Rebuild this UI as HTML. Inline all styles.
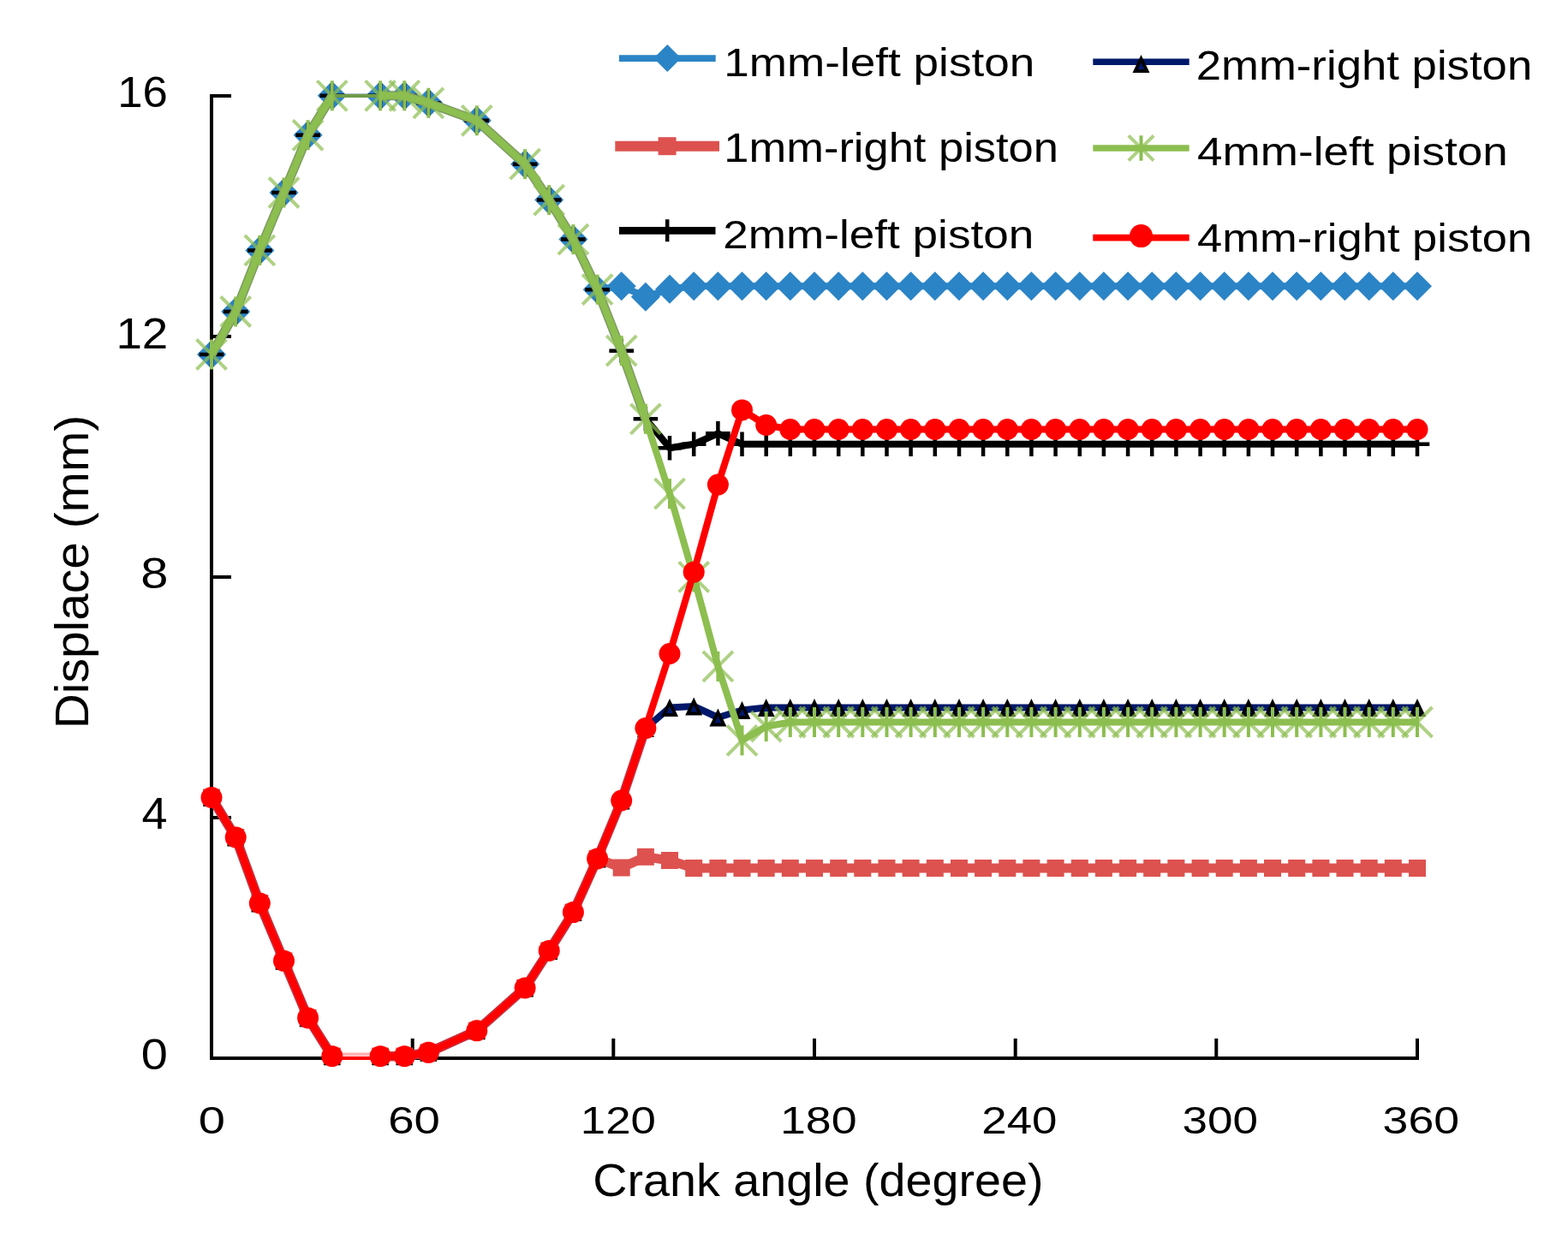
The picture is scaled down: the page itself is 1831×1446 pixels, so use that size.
<!DOCTYPE html>
<html><head><meta charset="utf-8"><title>Displace vs Crank angle</title>
<style>html,body{margin:0;padding:0;background:#fff;}svg{display:block;}</style></head>
<body>
<svg width="1831" height="1446" viewBox="0 0 1831 1446">
<rect width="1831" height="1446" fill="#fff"/>
<g id="axes"><path d="M247,110 V1238 M245,1236 H1657" stroke="#000" stroke-width="4" fill="none"/><path d="M247,1236.0 H270" stroke="#000" stroke-width="4"/><path d="M247,955.0 H270" stroke="#000" stroke-width="4"/><path d="M247,674.0 H270" stroke="#000" stroke-width="4"/><path d="M247,393.0 H270" stroke="#000" stroke-width="4"/><path d="M247,112.0 H270" stroke="#000" stroke-width="4"/><path d="M247.0,1236 V1213" stroke="#000" stroke-width="4"/><path d="M481.7,1236 V1213" stroke="#000" stroke-width="4"/><path d="M716.3,1236 V1213" stroke="#000" stroke-width="4"/><path d="M951.0,1236 V1213" stroke="#000" stroke-width="4"/><path d="M1185.7,1236 V1213" stroke="#000" stroke-width="4"/><path d="M1420.3,1236 V1213" stroke="#000" stroke-width="4"/><path d="M1655.0,1236 V1213" stroke="#000" stroke-width="4"/></g>
<g id="plot"><path d="M247.0,414.0 L275.2,364.0 L303.3,292.4 L331.5,225.0 L359.6,157.8 L387.8,111.8 M444.1,111.8 L472.3,111.8 L500.4,120.3 L556.8,140.8 L613.1,191.7 L641.2,233.6 L669.4,279.6 L697.6,338.2 L725.7,334.2 L753.9,346.8 L782.0,337.8 L810.2,334.2 L838.4,334.2 L866.5,334.2 L894.7,334.2 L922.8,334.2 L951.0,334.2 L979.2,334.2 L1007.3,334.2 L1035.5,334.2 L1063.6,334.2 L1091.8,334.2 L1120.0,334.2 L1148.1,334.2 L1176.3,334.2 L1204.4,334.2 L1232.6,334.2 L1260.8,334.2 L1288.9,334.2 L1317.1,334.2 L1345.2,334.2 L1373.4,334.2 L1401.6,334.2 L1429.7,334.2 L1457.9,334.2 L1486.0,334.2 L1514.2,334.2 L1542.4,334.2 L1570.5,334.2 L1598.7,334.2 L1626.8,334.2 L1655.0,334.2" stroke="#2B84C6" stroke-width="8" fill="none" stroke-linejoin="round"/><path d="M387.8,111.8 L444.1,111.8" stroke="#2B84C6" stroke-width="4" fill="none" opacity="0.7"/><path d="M247.0,397.0 L264.0,414.0 L247.0,431.0 L230.0,414.0Z" fill="#2B84C6"/><path d="M275.2,347.0 L292.2,364.0 L275.2,381.0 L258.2,364.0Z" fill="#2B84C6"/><path d="M303.3,275.4 L320.3,292.4 L303.3,309.4 L286.3,292.4Z" fill="#2B84C6"/><path d="M331.5,208.0 L348.5,225.0 L331.5,242.0 L314.5,225.0Z" fill="#2B84C6"/><path d="M359.6,140.8 L376.6,157.8 L359.6,174.8 L342.6,157.8Z" fill="#2B84C6"/><path d="M387.8,94.8 L404.8,111.8 L387.8,128.8 L370.8,111.8Z" fill="#2B84C6"/><path d="M444.1,94.8 L461.1,111.8 L444.1,128.8 L427.1,111.8Z" fill="#2B84C6"/><path d="M472.3,94.8 L489.3,111.8 L472.3,128.8 L455.3,111.8Z" fill="#2B84C6"/><path d="M500.4,103.3 L517.4,120.3 L500.4,137.3 L483.4,120.3Z" fill="#2B84C6"/><path d="M556.8,123.8 L573.8,140.8 L556.8,157.8 L539.8,140.8Z" fill="#2B84C6"/><path d="M613.1,174.7 L630.1,191.7 L613.1,208.7 L596.1,191.7Z" fill="#2B84C6"/><path d="M641.2,216.6 L658.2,233.6 L641.2,250.6 L624.2,233.6Z" fill="#2B84C6"/><path d="M669.4,262.6 L686.4,279.6 L669.4,296.6 L652.4,279.6Z" fill="#2B84C6"/><path d="M697.6,321.2 L714.6,338.2 L697.6,355.2 L680.6,338.2Z" fill="#2B84C6"/><path d="M725.7,317.2 L742.7,334.2 L725.7,351.2 L708.7,334.2Z" fill="#2B84C6"/><path d="M753.9,329.8 L770.9,346.8 L753.9,363.8 L736.9,346.8Z" fill="#2B84C6"/><path d="M782.0,320.8 L799.0,337.8 L782.0,354.8 L765.0,337.8Z" fill="#2B84C6"/><path d="M810.2,317.2 L827.2,334.2 L810.2,351.2 L793.2,334.2Z" fill="#2B84C6"/><path d="M838.4,317.2 L855.4,334.2 L838.4,351.2 L821.4,334.2Z" fill="#2B84C6"/><path d="M866.5,317.2 L883.5,334.2 L866.5,351.2 L849.5,334.2Z" fill="#2B84C6"/><path d="M894.7,317.2 L911.7,334.2 L894.7,351.2 L877.7,334.2Z" fill="#2B84C6"/><path d="M922.8,317.2 L939.8,334.2 L922.8,351.2 L905.8,334.2Z" fill="#2B84C6"/><path d="M951.0,317.2 L968.0,334.2 L951.0,351.2 L934.0,334.2Z" fill="#2B84C6"/><path d="M979.2,317.2 L996.2,334.2 L979.2,351.2 L962.2,334.2Z" fill="#2B84C6"/><path d="M1007.3,317.2 L1024.3,334.2 L1007.3,351.2 L990.3,334.2Z" fill="#2B84C6"/><path d="M1035.5,317.2 L1052.5,334.2 L1035.5,351.2 L1018.5,334.2Z" fill="#2B84C6"/><path d="M1063.6,317.2 L1080.6,334.2 L1063.6,351.2 L1046.6,334.2Z" fill="#2B84C6"/><path d="M1091.8,317.2 L1108.8,334.2 L1091.8,351.2 L1074.8,334.2Z" fill="#2B84C6"/><path d="M1120.0,317.2 L1137.0,334.2 L1120.0,351.2 L1103.0,334.2Z" fill="#2B84C6"/><path d="M1148.1,317.2 L1165.1,334.2 L1148.1,351.2 L1131.1,334.2Z" fill="#2B84C6"/><path d="M1176.3,317.2 L1193.3,334.2 L1176.3,351.2 L1159.3,334.2Z" fill="#2B84C6"/><path d="M1204.4,317.2 L1221.4,334.2 L1204.4,351.2 L1187.4,334.2Z" fill="#2B84C6"/><path d="M1232.6,317.2 L1249.6,334.2 L1232.6,351.2 L1215.6,334.2Z" fill="#2B84C6"/><path d="M1260.8,317.2 L1277.8,334.2 L1260.8,351.2 L1243.8,334.2Z" fill="#2B84C6"/><path d="M1288.9,317.2 L1305.9,334.2 L1288.9,351.2 L1271.9,334.2Z" fill="#2B84C6"/><path d="M1317.1,317.2 L1334.1,334.2 L1317.1,351.2 L1300.1,334.2Z" fill="#2B84C6"/><path d="M1345.2,317.2 L1362.2,334.2 L1345.2,351.2 L1328.2,334.2Z" fill="#2B84C6"/><path d="M1373.4,317.2 L1390.4,334.2 L1373.4,351.2 L1356.4,334.2Z" fill="#2B84C6"/><path d="M1401.6,317.2 L1418.6,334.2 L1401.6,351.2 L1384.6,334.2Z" fill="#2B84C6"/><path d="M1429.7,317.2 L1446.7,334.2 L1429.7,351.2 L1412.7,334.2Z" fill="#2B84C6"/><path d="M1457.9,317.2 L1474.9,334.2 L1457.9,351.2 L1440.9,334.2Z" fill="#2B84C6"/><path d="M1486.0,317.2 L1503.0,334.2 L1486.0,351.2 L1469.0,334.2Z" fill="#2B84C6"/><path d="M1514.2,317.2 L1531.2,334.2 L1514.2,351.2 L1497.2,334.2Z" fill="#2B84C6"/><path d="M1542.4,317.2 L1559.4,334.2 L1542.4,351.2 L1525.4,334.2Z" fill="#2B84C6"/><path d="M1570.5,317.2 L1587.5,334.2 L1570.5,351.2 L1553.5,334.2Z" fill="#2B84C6"/><path d="M1598.7,317.2 L1615.7,334.2 L1598.7,351.2 L1581.7,334.2Z" fill="#2B84C6"/><path d="M1626.8,317.2 L1643.8,334.2 L1626.8,351.2 L1609.8,334.2Z" fill="#2B84C6"/><path d="M1655.0,317.2 L1672.0,334.2 L1655.0,351.2 L1638.0,334.2Z" fill="#2B84C6"/><path d="M247.0,931.5 L275.2,978.0 L303.3,1055.0 L331.5,1122.3 L359.6,1188.9 L387.8,1233.7 M444.1,1233.7 L472.3,1233.7 L500.4,1229.3 L556.8,1203.8 L613.1,1153.9 L641.2,1110.4 L669.4,1065.6 L697.6,1002.9 L725.7,1013.5 L753.9,1000.8 L782.0,1005.0 L810.2,1014.0 L838.4,1014.0 L866.5,1014.0 L894.7,1014.0 L922.8,1014.0 L951.0,1014.0 L979.2,1014.0 L1007.3,1014.0 L1035.5,1014.0 L1063.6,1014.0 L1091.8,1014.0 L1120.0,1014.0 L1148.1,1014.0 L1176.3,1014.0 L1204.4,1014.0 L1232.6,1014.0 L1260.8,1014.0 L1288.9,1014.0 L1317.1,1014.0 L1345.2,1014.0 L1373.4,1014.0 L1401.6,1014.0 L1429.7,1014.0 L1457.9,1014.0 L1486.0,1014.0 L1514.2,1014.0 L1542.4,1014.0 L1570.5,1014.0 L1598.7,1014.0 L1626.8,1014.0 L1655.0,1014.0" stroke="#DD524F" stroke-width="11" fill="none" stroke-linejoin="round"/><rect x="237.0" y="921.5" width="20" height="20" fill="#DD524F"/><rect x="265.2" y="968.0" width="20" height="20" fill="#DD524F"/><rect x="293.3" y="1045.0" width="20" height="20" fill="#DD524F"/><rect x="321.5" y="1112.3" width="20" height="20" fill="#DD524F"/><rect x="349.6" y="1178.9" width="20" height="20" fill="#DD524F"/><rect x="377.8" y="1223.7" width="20" height="20" fill="#DD524F"/><rect x="434.1" y="1223.7" width="20" height="20" fill="#DD524F"/><rect x="462.3" y="1223.7" width="20" height="20" fill="#DD524F"/><rect x="490.4" y="1219.3" width="20" height="20" fill="#DD524F"/><rect x="546.8" y="1193.8" width="20" height="20" fill="#DD524F"/><rect x="603.1" y="1143.9" width="20" height="20" fill="#DD524F"/><rect x="631.2" y="1100.4" width="20" height="20" fill="#DD524F"/><rect x="659.4" y="1055.6" width="20" height="20" fill="#DD524F"/><rect x="687.6" y="992.9" width="20" height="20" fill="#DD524F"/><rect x="715.7" y="1003.5" width="20" height="20" fill="#DD524F"/><rect x="743.9" y="990.8" width="20" height="20" fill="#DD524F"/><rect x="772.0" y="995.0" width="20" height="20" fill="#DD524F"/><rect x="800.2" y="1004.0" width="20" height="20" fill="#DD524F"/><rect x="828.4" y="1004.0" width="20" height="20" fill="#DD524F"/><rect x="856.5" y="1004.0" width="20" height="20" fill="#DD524F"/><rect x="884.7" y="1004.0" width="20" height="20" fill="#DD524F"/><rect x="912.8" y="1004.0" width="20" height="20" fill="#DD524F"/><rect x="941.0" y="1004.0" width="20" height="20" fill="#DD524F"/><rect x="969.2" y="1004.0" width="20" height="20" fill="#DD524F"/><rect x="997.3" y="1004.0" width="20" height="20" fill="#DD524F"/><rect x="1025.5" y="1004.0" width="20" height="20" fill="#DD524F"/><rect x="1053.6" y="1004.0" width="20" height="20" fill="#DD524F"/><rect x="1081.8" y="1004.0" width="20" height="20" fill="#DD524F"/><rect x="1110.0" y="1004.0" width="20" height="20" fill="#DD524F"/><rect x="1138.1" y="1004.0" width="20" height="20" fill="#DD524F"/><rect x="1166.3" y="1004.0" width="20" height="20" fill="#DD524F"/><rect x="1194.4" y="1004.0" width="20" height="20" fill="#DD524F"/><rect x="1222.6" y="1004.0" width="20" height="20" fill="#DD524F"/><rect x="1250.8" y="1004.0" width="20" height="20" fill="#DD524F"/><rect x="1278.9" y="1004.0" width="20" height="20" fill="#DD524F"/><rect x="1307.1" y="1004.0" width="20" height="20" fill="#DD524F"/><rect x="1335.2" y="1004.0" width="20" height="20" fill="#DD524F"/><rect x="1363.4" y="1004.0" width="20" height="20" fill="#DD524F"/><rect x="1391.6" y="1004.0" width="20" height="20" fill="#DD524F"/><rect x="1419.7" y="1004.0" width="20" height="20" fill="#DD524F"/><rect x="1447.9" y="1004.0" width="20" height="20" fill="#DD524F"/><rect x="1476.0" y="1004.0" width="20" height="20" fill="#DD524F"/><rect x="1504.2" y="1004.0" width="20" height="20" fill="#DD524F"/><rect x="1532.4" y="1004.0" width="20" height="20" fill="#DD524F"/><rect x="1560.5" y="1004.0" width="20" height="20" fill="#DD524F"/><rect x="1588.7" y="1004.0" width="20" height="20" fill="#DD524F"/><rect x="1616.8" y="1004.0" width="20" height="20" fill="#DD524F"/><rect x="1645.0" y="1004.0" width="20" height="20" fill="#DD524F"/><path d="M247.0,414.0 L275.2,364.0 L303.3,292.4 L331.5,225.0 L359.6,157.8 L387.8,111.8 M444.1,111.8 L472.3,111.8 L500.4,120.3 L556.8,140.8 L613.1,191.7 L641.2,233.6 L669.4,279.6 L697.6,338.2 L725.7,409.7 L753.9,489.3 L782.0,523.2 L810.2,518.8 L838.4,506.3 L866.5,518.8 L894.7,518.8 L922.8,518.8 L951.0,518.8 L979.2,518.8 L1007.3,518.8 L1035.5,518.8 L1063.6,518.8 L1091.8,518.8 L1120.0,518.8 L1148.1,518.8 L1176.3,518.8 L1204.4,518.8 L1232.6,518.8 L1260.8,518.8 L1288.9,518.8 L1317.1,518.8 L1345.2,518.8 L1373.4,518.8 L1401.6,518.8 L1429.7,518.8 L1457.9,518.8 L1486.0,518.8 L1514.2,518.8 L1542.4,518.8 L1570.5,518.8 L1598.7,518.8 L1626.8,518.8 L1655.0,518.8" stroke="#000000" stroke-width="8" fill="none" stroke-linejoin="round"/><path d="M387.8,111.8 L444.1,111.8" stroke="#000000" stroke-width="4" fill="none" opacity="0.7"/><path d="M232.7,414.0 H261.3 M247.0,399.7 V428.3" stroke="#000" stroke-width="4.5" fill="none"/><path d="M260.9,364.0 H289.5 M275.2,349.7 V378.3" stroke="#000" stroke-width="4.5" fill="none"/><path d="M289.0,292.4 H317.6 M303.3,278.1 V306.7" stroke="#000" stroke-width="4.5" fill="none"/><path d="M317.2,225.0 H345.8 M331.5,210.7 V239.3" stroke="#000" stroke-width="4.5" fill="none"/><path d="M345.3,157.8 H373.9 M359.6,143.5 V172.1" stroke="#000" stroke-width="4.5" fill="none"/><path d="M373.5,111.8 H402.1 M387.8,97.5 V126.1" stroke="#000" stroke-width="4.5" fill="none"/><path d="M429.8,111.8 H458.4 M444.1,97.5 V126.1" stroke="#000" stroke-width="4.5" fill="none"/><path d="M458.0,111.8 H486.6 M472.3,97.5 V126.1" stroke="#000" stroke-width="4.5" fill="none"/><path d="M486.1,120.3 H514.7 M500.4,106.0 V134.6" stroke="#000" stroke-width="4.5" fill="none"/><path d="M542.5,140.8 H571.1 M556.8,126.5 V155.1" stroke="#000" stroke-width="4.5" fill="none"/><path d="M598.8,191.7 H627.4 M613.1,177.4 V206.0" stroke="#000" stroke-width="4.5" fill="none"/><path d="M626.9,233.6 H655.5 M641.2,219.3 V247.9" stroke="#000" stroke-width="4.5" fill="none"/><path d="M655.1,279.6 H683.7 M669.4,265.3 V293.9" stroke="#000" stroke-width="4.5" fill="none"/><path d="M683.3,338.2 H711.9 M697.6,323.9 V352.5" stroke="#000" stroke-width="4.5" fill="none"/><path d="M711.4,409.7 H740.0 M725.7,395.4 V424.0" stroke="#000" stroke-width="4.5" fill="none"/><path d="M739.6,489.3 H768.2 M753.9,475.0 V503.6" stroke="#000" stroke-width="4.5" fill="none"/><path d="M767.7,523.2 H796.3 M782.0,508.9 V537.5" stroke="#000" stroke-width="4.5" fill="none"/><path d="M795.9,518.8 H824.5 M810.2,504.5 V533.1" stroke="#000" stroke-width="4.5" fill="none"/><path d="M824.1,506.3 H852.7 M838.4,492.0 V520.6" stroke="#000" stroke-width="4.5" fill="none"/><path d="M852.2,518.8 H880.8 M866.5,504.5 V533.1" stroke="#000" stroke-width="4.5" fill="none"/><path d="M880.4,518.8 H909.0 M894.7,504.5 V533.1" stroke="#000" stroke-width="4.5" fill="none"/><path d="M908.5,518.8 H937.1 M922.8,504.5 V533.1" stroke="#000" stroke-width="4.5" fill="none"/><path d="M936.7,518.8 H965.3 M951.0,504.5 V533.1" stroke="#000" stroke-width="4.5" fill="none"/><path d="M964.9,518.8 H993.5 M979.2,504.5 V533.1" stroke="#000" stroke-width="4.5" fill="none"/><path d="M993.0,518.8 H1021.6 M1007.3,504.5 V533.1" stroke="#000" stroke-width="4.5" fill="none"/><path d="M1021.2,518.8 H1049.8 M1035.5,504.5 V533.1" stroke="#000" stroke-width="4.5" fill="none"/><path d="M1049.3,518.8 H1077.9 M1063.6,504.5 V533.1" stroke="#000" stroke-width="4.5" fill="none"/><path d="M1077.5,518.8 H1106.1 M1091.8,504.5 V533.1" stroke="#000" stroke-width="4.5" fill="none"/><path d="M1105.7,518.8 H1134.3 M1120.0,504.5 V533.1" stroke="#000" stroke-width="4.5" fill="none"/><path d="M1133.8,518.8 H1162.4 M1148.1,504.5 V533.1" stroke="#000" stroke-width="4.5" fill="none"/><path d="M1162.0,518.8 H1190.6 M1176.3,504.5 V533.1" stroke="#000" stroke-width="4.5" fill="none"/><path d="M1190.1,518.8 H1218.7 M1204.4,504.5 V533.1" stroke="#000" stroke-width="4.5" fill="none"/><path d="M1218.3,518.8 H1246.9 M1232.6,504.5 V533.1" stroke="#000" stroke-width="4.5" fill="none"/><path d="M1246.5,518.8 H1275.1 M1260.8,504.5 V533.1" stroke="#000" stroke-width="4.5" fill="none"/><path d="M1274.6,518.8 H1303.2 M1288.9,504.5 V533.1" stroke="#000" stroke-width="4.5" fill="none"/><path d="M1302.8,518.8 H1331.4 M1317.1,504.5 V533.1" stroke="#000" stroke-width="4.5" fill="none"/><path d="M1330.9,518.8 H1359.5 M1345.2,504.5 V533.1" stroke="#000" stroke-width="4.5" fill="none"/><path d="M1359.1,518.8 H1387.7 M1373.4,504.5 V533.1" stroke="#000" stroke-width="4.5" fill="none"/><path d="M1387.3,518.8 H1415.9 M1401.6,504.5 V533.1" stroke="#000" stroke-width="4.5" fill="none"/><path d="M1415.4,518.8 H1444.0 M1429.7,504.5 V533.1" stroke="#000" stroke-width="4.5" fill="none"/><path d="M1443.6,518.8 H1472.2 M1457.9,504.5 V533.1" stroke="#000" stroke-width="4.5" fill="none"/><path d="M1471.7,518.8 H1500.3 M1486.0,504.5 V533.1" stroke="#000" stroke-width="4.5" fill="none"/><path d="M1499.9,518.8 H1528.5 M1514.2,504.5 V533.1" stroke="#000" stroke-width="4.5" fill="none"/><path d="M1528.1,518.8 H1556.7 M1542.4,504.5 V533.1" stroke="#000" stroke-width="4.5" fill="none"/><path d="M1556.2,518.8 H1584.8 M1570.5,504.5 V533.1" stroke="#000" stroke-width="4.5" fill="none"/><path d="M1584.4,518.8 H1613.0 M1598.7,504.5 V533.1" stroke="#000" stroke-width="4.5" fill="none"/><path d="M1612.5,518.8 H1641.1 M1626.8,504.5 V533.1" stroke="#000" stroke-width="4.5" fill="none"/><path d="M1640.7,518.8 H1669.3 M1655.0,504.5 V533.1" stroke="#000" stroke-width="4.5" fill="none"/><path d="M247.0,931.5 L275.2,978.0 L303.3,1055.0 L331.5,1122.3 L359.6,1188.9 L387.8,1233.7 M444.1,1233.7 L472.3,1233.7 L500.4,1229.3 L556.8,1203.8 L613.1,1153.9 L641.2,1110.4 L669.4,1065.6 L697.6,1002.9 L725.7,935.0 L753.9,850.6 L782.0,826.5 L810.2,825.0 L838.4,838.0 L866.5,829.5 L894.7,826.5 L922.8,826.5 L951.0,826.5 L979.2,826.5 L1007.3,826.5 L1035.5,826.5 L1063.6,826.5 L1091.8,826.5 L1120.0,826.5 L1148.1,826.5 L1176.3,826.5 L1204.4,826.5 L1232.6,826.5 L1260.8,826.5 L1288.9,826.5 L1317.1,826.5 L1345.2,826.5 L1373.4,826.5 L1401.6,826.5 L1429.7,826.5 L1457.9,826.5 L1486.0,826.5 L1514.2,826.5 L1542.4,826.5 L1570.5,826.5 L1598.7,826.5 L1626.8,826.5 L1655.0,826.5" stroke="#00186A" stroke-width="8" fill="none" stroke-linejoin="round"/><path d="M247.0,921.0 L257.0,942.0 L237.0,942.0Z" fill="#000"/><path d="M247.0,930.0 L251.0,938.0 L243.0,938.0Z" fill="#00186A"/><path d="M275.2,967.5 L285.2,988.5 L265.2,988.5Z" fill="#000"/><path d="M275.2,976.5 L279.2,984.5 L271.2,984.5Z" fill="#00186A"/><path d="M303.3,1044.5 L313.3,1065.5 L293.3,1065.5Z" fill="#000"/><path d="M303.3,1053.5 L307.3,1061.5 L299.3,1061.5Z" fill="#00186A"/><path d="M331.5,1111.8 L341.5,1132.8 L321.5,1132.8Z" fill="#000"/><path d="M331.5,1120.8 L335.5,1128.8 L327.5,1128.8Z" fill="#00186A"/><path d="M359.6,1178.4 L369.6,1199.4 L349.6,1199.4Z" fill="#000"/><path d="M359.6,1187.4 L363.6,1195.4 L355.6,1195.4Z" fill="#00186A"/><path d="M387.8,1223.2 L397.8,1244.2 L377.8,1244.2Z" fill="#000"/><path d="M387.8,1232.2 L391.8,1240.2 L383.8,1240.2Z" fill="#00186A"/><path d="M444.1,1223.2 L454.1,1244.2 L434.1,1244.2Z" fill="#000"/><path d="M444.1,1232.2 L448.1,1240.2 L440.1,1240.2Z" fill="#00186A"/><path d="M472.3,1223.2 L482.3,1244.2 L462.3,1244.2Z" fill="#000"/><path d="M472.3,1232.2 L476.3,1240.2 L468.3,1240.2Z" fill="#00186A"/><path d="M500.4,1218.8 L510.4,1239.8 L490.4,1239.8Z" fill="#000"/><path d="M500.4,1227.8 L504.4,1235.8 L496.4,1235.8Z" fill="#00186A"/><path d="M556.8,1193.3 L566.8,1214.3 L546.8,1214.3Z" fill="#000"/><path d="M556.8,1202.3 L560.8,1210.3 L552.8,1210.3Z" fill="#00186A"/><path d="M613.1,1143.4 L623.1,1164.4 L603.1,1164.4Z" fill="#000"/><path d="M613.1,1152.4 L617.1,1160.4 L609.1,1160.4Z" fill="#00186A"/><path d="M641.2,1099.9 L651.2,1120.9 L631.2,1120.9Z" fill="#000"/><path d="M641.2,1108.9 L645.2,1116.9 L637.2,1116.9Z" fill="#00186A"/><path d="M669.4,1055.1 L679.4,1076.1 L659.4,1076.1Z" fill="#000"/><path d="M669.4,1064.1 L673.4,1072.1 L665.4,1072.1Z" fill="#00186A"/><path d="M697.6,992.4 L707.6,1013.4 L687.6,1013.4Z" fill="#000"/><path d="M697.6,1001.4 L701.6,1009.4 L693.6,1009.4Z" fill="#00186A"/><path d="M725.7,924.5 L735.7,945.5 L715.7,945.5Z" fill="#000"/><path d="M725.7,933.5 L729.7,941.5 L721.7,941.5Z" fill="#00186A"/><path d="M753.9,840.1 L763.9,861.1 L743.9,861.1Z" fill="#000"/><path d="M753.9,849.1 L757.9,857.1 L749.9,857.1Z" fill="#00186A"/><path d="M782.0,816.0 L792.0,837.0 L772.0,837.0Z" fill="#000"/><path d="M782.0,825.0 L786.0,833.0 L778.0,833.0Z" fill="#00186A"/><path d="M810.2,814.5 L820.2,835.5 L800.2,835.5Z" fill="#000"/><path d="M810.2,823.5 L814.2,831.5 L806.2,831.5Z" fill="#00186A"/><path d="M838.4,827.5 L848.4,848.5 L828.4,848.5Z" fill="#000"/><path d="M838.4,836.5 L842.4,844.5 L834.4,844.5Z" fill="#00186A"/><path d="M866.5,819.0 L876.5,840.0 L856.5,840.0Z" fill="#000"/><path d="M866.5,828.0 L870.5,836.0 L862.5,836.0Z" fill="#00186A"/><path d="M894.7,816.0 L904.7,837.0 L884.7,837.0Z" fill="#000"/><path d="M894.7,825.0 L898.7,833.0 L890.7,833.0Z" fill="#00186A"/><path d="M922.8,816.0 L932.8,837.0 L912.8,837.0Z" fill="#000"/><path d="M922.8,825.0 L926.8,833.0 L918.8,833.0Z" fill="#00186A"/><path d="M951.0,816.0 L961.0,837.0 L941.0,837.0Z" fill="#000"/><path d="M951.0,825.0 L955.0,833.0 L947.0,833.0Z" fill="#00186A"/><path d="M979.2,816.0 L989.2,837.0 L969.2,837.0Z" fill="#000"/><path d="M979.2,825.0 L983.2,833.0 L975.2,833.0Z" fill="#00186A"/><path d="M1007.3,816.0 L1017.3,837.0 L997.3,837.0Z" fill="#000"/><path d="M1007.3,825.0 L1011.3,833.0 L1003.3,833.0Z" fill="#00186A"/><path d="M1035.5,816.0 L1045.5,837.0 L1025.5,837.0Z" fill="#000"/><path d="M1035.5,825.0 L1039.5,833.0 L1031.5,833.0Z" fill="#00186A"/><path d="M1063.6,816.0 L1073.6,837.0 L1053.6,837.0Z" fill="#000"/><path d="M1063.6,825.0 L1067.6,833.0 L1059.6,833.0Z" fill="#00186A"/><path d="M1091.8,816.0 L1101.8,837.0 L1081.8,837.0Z" fill="#000"/><path d="M1091.8,825.0 L1095.8,833.0 L1087.8,833.0Z" fill="#00186A"/><path d="M1120.0,816.0 L1130.0,837.0 L1110.0,837.0Z" fill="#000"/><path d="M1120.0,825.0 L1124.0,833.0 L1116.0,833.0Z" fill="#00186A"/><path d="M1148.1,816.0 L1158.1,837.0 L1138.1,837.0Z" fill="#000"/><path d="M1148.1,825.0 L1152.1,833.0 L1144.1,833.0Z" fill="#00186A"/><path d="M1176.3,816.0 L1186.3,837.0 L1166.3,837.0Z" fill="#000"/><path d="M1176.3,825.0 L1180.3,833.0 L1172.3,833.0Z" fill="#00186A"/><path d="M1204.4,816.0 L1214.4,837.0 L1194.4,837.0Z" fill="#000"/><path d="M1204.4,825.0 L1208.4,833.0 L1200.4,833.0Z" fill="#00186A"/><path d="M1232.6,816.0 L1242.6,837.0 L1222.6,837.0Z" fill="#000"/><path d="M1232.6,825.0 L1236.6,833.0 L1228.6,833.0Z" fill="#00186A"/><path d="M1260.8,816.0 L1270.8,837.0 L1250.8,837.0Z" fill="#000"/><path d="M1260.8,825.0 L1264.8,833.0 L1256.8,833.0Z" fill="#00186A"/><path d="M1288.9,816.0 L1298.9,837.0 L1278.9,837.0Z" fill="#000"/><path d="M1288.9,825.0 L1292.9,833.0 L1284.9,833.0Z" fill="#00186A"/><path d="M1317.1,816.0 L1327.1,837.0 L1307.1,837.0Z" fill="#000"/><path d="M1317.1,825.0 L1321.1,833.0 L1313.1,833.0Z" fill="#00186A"/><path d="M1345.2,816.0 L1355.2,837.0 L1335.2,837.0Z" fill="#000"/><path d="M1345.2,825.0 L1349.2,833.0 L1341.2,833.0Z" fill="#00186A"/><path d="M1373.4,816.0 L1383.4,837.0 L1363.4,837.0Z" fill="#000"/><path d="M1373.4,825.0 L1377.4,833.0 L1369.4,833.0Z" fill="#00186A"/><path d="M1401.6,816.0 L1411.6,837.0 L1391.6,837.0Z" fill="#000"/><path d="M1401.6,825.0 L1405.6,833.0 L1397.6,833.0Z" fill="#00186A"/><path d="M1429.7,816.0 L1439.7,837.0 L1419.7,837.0Z" fill="#000"/><path d="M1429.7,825.0 L1433.7,833.0 L1425.7,833.0Z" fill="#00186A"/><path d="M1457.9,816.0 L1467.9,837.0 L1447.9,837.0Z" fill="#000"/><path d="M1457.9,825.0 L1461.9,833.0 L1453.9,833.0Z" fill="#00186A"/><path d="M1486.0,816.0 L1496.0,837.0 L1476.0,837.0Z" fill="#000"/><path d="M1486.0,825.0 L1490.0,833.0 L1482.0,833.0Z" fill="#00186A"/><path d="M1514.2,816.0 L1524.2,837.0 L1504.2,837.0Z" fill="#000"/><path d="M1514.2,825.0 L1518.2,833.0 L1510.2,833.0Z" fill="#00186A"/><path d="M1542.4,816.0 L1552.4,837.0 L1532.4,837.0Z" fill="#000"/><path d="M1542.4,825.0 L1546.4,833.0 L1538.4,833.0Z" fill="#00186A"/><path d="M1570.5,816.0 L1580.5,837.0 L1560.5,837.0Z" fill="#000"/><path d="M1570.5,825.0 L1574.5,833.0 L1566.5,833.0Z" fill="#00186A"/><path d="M1598.7,816.0 L1608.7,837.0 L1588.7,837.0Z" fill="#000"/><path d="M1598.7,825.0 L1602.7,833.0 L1594.7,833.0Z" fill="#00186A"/><path d="M1626.8,816.0 L1636.8,837.0 L1616.8,837.0Z" fill="#000"/><path d="M1626.8,825.0 L1630.8,833.0 L1622.8,833.0Z" fill="#00186A"/><path d="M1655.0,816.0 L1665.0,837.0 L1645.0,837.0Z" fill="#000"/><path d="M1655.0,825.0 L1659.0,833.0 L1651.0,833.0Z" fill="#00186A"/><path d="M247.0,414.0 L275.2,364.0 L303.3,292.4 L331.5,225.0 L359.6,157.8 L387.8,111.8 M444.1,111.8 L472.3,111.8 L500.4,120.3 L556.8,140.8 L613.1,191.7 L641.2,233.6 L669.4,279.6 L697.6,338.2 L725.7,409.7 L753.9,489.3" stroke="#7E9C62" stroke-width="11" fill="none" stroke-linejoin="round"/><path d="M247.0,414.0 L275.2,364.0 L303.3,292.4 L331.5,225.0 L359.6,157.8 L387.8,111.8 M444.1,111.8 L472.3,111.8 L500.4,120.3 L556.8,140.8 L613.1,191.7 L641.2,233.6 L669.4,279.6 L697.6,338.2 L725.7,409.7 L753.9,489.3 L782.0,576.7 L810.2,673.8 L838.4,778.4 L866.5,864.8 L894.7,848.5 L922.8,843.5 L951.0,843.5 L979.2,843.5 L1007.3,843.5 L1035.5,843.5 L1063.6,843.5 L1091.8,843.5 L1120.0,843.5 L1148.1,843.5 L1176.3,843.5 L1204.4,843.5 L1232.6,843.5 L1260.8,843.5 L1288.9,843.5 L1317.1,843.5 L1345.2,843.5 L1373.4,843.5 L1401.6,843.5 L1429.7,843.5 L1457.9,843.5 L1486.0,843.5 L1514.2,843.5 L1542.4,843.5 L1570.5,843.5 L1598.7,843.5 L1626.8,843.5 L1655.0,843.5" stroke="#8CBE50" stroke-width="8" fill="none" stroke-linejoin="round"/><path d="M387.8,112 H444.1" stroke="#6F9B48" stroke-width="4" fill="none"/><path d="M247.0,396.5 V431.5" stroke="#8CBE50" stroke-width="4"/><path d="M229.5,396.5 L264.5,431.5 M264.5,396.5 L229.5,431.5" stroke="#8CBE50" stroke-width="4" opacity="0.7"/><path d="M275.2,346.5 V381.5" stroke="#8CBE50" stroke-width="4"/><path d="M257.7,346.5 L292.7,381.5 M292.7,346.5 L257.7,381.5" stroke="#8CBE50" stroke-width="4" opacity="0.7"/><path d="M303.3,274.9 V309.9" stroke="#8CBE50" stroke-width="4"/><path d="M285.8,274.9 L320.8,309.9 M320.8,274.9 L285.8,309.9" stroke="#8CBE50" stroke-width="4" opacity="0.7"/><path d="M331.5,207.5 V242.5" stroke="#8CBE50" stroke-width="4"/><path d="M314.0,207.5 L349.0,242.5 M349.0,207.5 L314.0,242.5" stroke="#8CBE50" stroke-width="4" opacity="0.7"/><path d="M359.6,140.3 V175.3" stroke="#8CBE50" stroke-width="4"/><path d="M342.1,140.3 L377.1,175.3 M377.1,140.3 L342.1,175.3" stroke="#8CBE50" stroke-width="4" opacity="0.7"/><path d="M387.8,94.3 V129.3" stroke="#8CBE50" stroke-width="4"/><path d="M370.3,94.3 L405.3,129.3 M405.3,94.3 L370.3,129.3" stroke="#8CBE50" stroke-width="4" opacity="0.7"/><path d="M444.1,94.3 V129.3" stroke="#8CBE50" stroke-width="4"/><path d="M426.6,94.3 L461.6,129.3 M461.6,94.3 L426.6,129.3" stroke="#8CBE50" stroke-width="4" opacity="0.7"/><path d="M472.3,94.3 V129.3" stroke="#8CBE50" stroke-width="4"/><path d="M454.8,94.3 L489.8,129.3 M489.8,94.3 L454.8,129.3" stroke="#8CBE50" stroke-width="4" opacity="0.7"/><path d="M500.4,102.8 V137.8" stroke="#8CBE50" stroke-width="4"/><path d="M482.9,102.8 L517.9,137.8 M517.9,102.8 L482.9,137.8" stroke="#8CBE50" stroke-width="4" opacity="0.7"/><path d="M556.8,123.3 V158.3" stroke="#8CBE50" stroke-width="4"/><path d="M539.3,123.3 L574.3,158.3 M574.3,123.3 L539.3,158.3" stroke="#8CBE50" stroke-width="4" opacity="0.7"/><path d="M613.1,174.2 V209.2" stroke="#8CBE50" stroke-width="4"/><path d="M595.6,174.2 L630.6,209.2 M630.6,174.2 L595.6,209.2" stroke="#8CBE50" stroke-width="4" opacity="0.7"/><path d="M641.2,216.1 V251.1" stroke="#8CBE50" stroke-width="4"/><path d="M623.7,216.1 L658.7,251.1 M658.7,216.1 L623.7,251.1" stroke="#8CBE50" stroke-width="4" opacity="0.7"/><path d="M669.4,262.1 V297.1" stroke="#8CBE50" stroke-width="4"/><path d="M651.9,262.1 L686.9,297.1 M686.9,262.1 L651.9,297.1" stroke="#8CBE50" stroke-width="4" opacity="0.7"/><path d="M697.6,320.7 V355.7" stroke="#8CBE50" stroke-width="4"/><path d="M680.1,320.7 L715.1,355.7 M715.1,320.7 L680.1,355.7" stroke="#8CBE50" stroke-width="4" opacity="0.7"/><path d="M725.7,392.2 V427.2" stroke="#8CBE50" stroke-width="4"/><path d="M708.2,392.2 L743.2,427.2 M743.2,392.2 L708.2,427.2" stroke="#8CBE50" stroke-width="4" opacity="0.7"/><path d="M753.9,471.8 V506.8" stroke="#8CBE50" stroke-width="4"/><path d="M736.4,471.8 L771.4,506.8 M771.4,471.8 L736.4,506.8" stroke="#8CBE50" stroke-width="4" opacity="0.7"/><path d="M782.0,559.2 V594.2" stroke="#8CBE50" stroke-width="4"/><path d="M764.5,559.2 L799.5,594.2 M799.5,559.2 L764.5,594.2" stroke="#8CBE50" stroke-width="4" opacity="0.7"/><path d="M810.2,656.3 V691.3" stroke="#8CBE50" stroke-width="4"/><path d="M792.7,656.3 L827.7,691.3 M827.7,656.3 L792.7,691.3" stroke="#8CBE50" stroke-width="4" opacity="0.7"/><path d="M838.4,760.9 V795.9" stroke="#8CBE50" stroke-width="4"/><path d="M820.9,760.9 L855.9,795.9 M855.9,760.9 L820.9,795.9" stroke="#8CBE50" stroke-width="4" opacity="0.7"/><path d="M866.5,847.3 V882.3" stroke="#8CBE50" stroke-width="4"/><path d="M849.0,847.3 L884.0,882.3 M884.0,847.3 L849.0,882.3" stroke="#8CBE50" stroke-width="4" opacity="0.7"/><path d="M894.7,831.0 V866.0" stroke="#8CBE50" stroke-width="4"/><path d="M877.2,831.0 L912.2,866.0 M912.2,831.0 L877.2,866.0" stroke="#8CBE50" stroke-width="4" opacity="0.7"/><path d="M922.8,826.0 V861.0" stroke="#8CBE50" stroke-width="4"/><path d="M905.3,826.0 L940.3,861.0 M940.3,826.0 L905.3,861.0" stroke="#8CBE50" stroke-width="4" opacity="0.7"/><path d="M951.0,826.0 V861.0" stroke="#8CBE50" stroke-width="4"/><path d="M933.5,826.0 L968.5,861.0 M968.5,826.0 L933.5,861.0" stroke="#8CBE50" stroke-width="4" opacity="0.7"/><path d="M979.2,826.0 V861.0" stroke="#8CBE50" stroke-width="4"/><path d="M961.7,826.0 L996.7,861.0 M996.7,826.0 L961.7,861.0" stroke="#8CBE50" stroke-width="4" opacity="0.7"/><path d="M1007.3,826.0 V861.0" stroke="#8CBE50" stroke-width="4"/><path d="M989.8,826.0 L1024.8,861.0 M1024.8,826.0 L989.8,861.0" stroke="#8CBE50" stroke-width="4" opacity="0.7"/><path d="M1035.5,826.0 V861.0" stroke="#8CBE50" stroke-width="4"/><path d="M1018.0,826.0 L1053.0,861.0 M1053.0,826.0 L1018.0,861.0" stroke="#8CBE50" stroke-width="4" opacity="0.7"/><path d="M1063.6,826.0 V861.0" stroke="#8CBE50" stroke-width="4"/><path d="M1046.1,826.0 L1081.1,861.0 M1081.1,826.0 L1046.1,861.0" stroke="#8CBE50" stroke-width="4" opacity="0.7"/><path d="M1091.8,826.0 V861.0" stroke="#8CBE50" stroke-width="4"/><path d="M1074.3,826.0 L1109.3,861.0 M1109.3,826.0 L1074.3,861.0" stroke="#8CBE50" stroke-width="4" opacity="0.7"/><path d="M1120.0,826.0 V861.0" stroke="#8CBE50" stroke-width="4"/><path d="M1102.5,826.0 L1137.5,861.0 M1137.5,826.0 L1102.5,861.0" stroke="#8CBE50" stroke-width="4" opacity="0.7"/><path d="M1148.1,826.0 V861.0" stroke="#8CBE50" stroke-width="4"/><path d="M1130.6,826.0 L1165.6,861.0 M1165.6,826.0 L1130.6,861.0" stroke="#8CBE50" stroke-width="4" opacity="0.7"/><path d="M1176.3,826.0 V861.0" stroke="#8CBE50" stroke-width="4"/><path d="M1158.8,826.0 L1193.8,861.0 M1193.8,826.0 L1158.8,861.0" stroke="#8CBE50" stroke-width="4" opacity="0.7"/><path d="M1204.4,826.0 V861.0" stroke="#8CBE50" stroke-width="4"/><path d="M1186.9,826.0 L1221.9,861.0 M1221.9,826.0 L1186.9,861.0" stroke="#8CBE50" stroke-width="4" opacity="0.7"/><path d="M1232.6,826.0 V861.0" stroke="#8CBE50" stroke-width="4"/><path d="M1215.1,826.0 L1250.1,861.0 M1250.1,826.0 L1215.1,861.0" stroke="#8CBE50" stroke-width="4" opacity="0.7"/><path d="M1260.8,826.0 V861.0" stroke="#8CBE50" stroke-width="4"/><path d="M1243.3,826.0 L1278.3,861.0 M1278.3,826.0 L1243.3,861.0" stroke="#8CBE50" stroke-width="4" opacity="0.7"/><path d="M1288.9,826.0 V861.0" stroke="#8CBE50" stroke-width="4"/><path d="M1271.4,826.0 L1306.4,861.0 M1306.4,826.0 L1271.4,861.0" stroke="#8CBE50" stroke-width="4" opacity="0.7"/><path d="M1317.1,826.0 V861.0" stroke="#8CBE50" stroke-width="4"/><path d="M1299.6,826.0 L1334.6,861.0 M1334.6,826.0 L1299.6,861.0" stroke="#8CBE50" stroke-width="4" opacity="0.7"/><path d="M1345.2,826.0 V861.0" stroke="#8CBE50" stroke-width="4"/><path d="M1327.7,826.0 L1362.7,861.0 M1362.7,826.0 L1327.7,861.0" stroke="#8CBE50" stroke-width="4" opacity="0.7"/><path d="M1373.4,826.0 V861.0" stroke="#8CBE50" stroke-width="4"/><path d="M1355.9,826.0 L1390.9,861.0 M1390.9,826.0 L1355.9,861.0" stroke="#8CBE50" stroke-width="4" opacity="0.7"/><path d="M1401.6,826.0 V861.0" stroke="#8CBE50" stroke-width="4"/><path d="M1384.1,826.0 L1419.1,861.0 M1419.1,826.0 L1384.1,861.0" stroke="#8CBE50" stroke-width="4" opacity="0.7"/><path d="M1429.7,826.0 V861.0" stroke="#8CBE50" stroke-width="4"/><path d="M1412.2,826.0 L1447.2,861.0 M1447.2,826.0 L1412.2,861.0" stroke="#8CBE50" stroke-width="4" opacity="0.7"/><path d="M1457.9,826.0 V861.0" stroke="#8CBE50" stroke-width="4"/><path d="M1440.4,826.0 L1475.4,861.0 M1475.4,826.0 L1440.4,861.0" stroke="#8CBE50" stroke-width="4" opacity="0.7"/><path d="M1486.0,826.0 V861.0" stroke="#8CBE50" stroke-width="4"/><path d="M1468.5,826.0 L1503.5,861.0 M1503.5,826.0 L1468.5,861.0" stroke="#8CBE50" stroke-width="4" opacity="0.7"/><path d="M1514.2,826.0 V861.0" stroke="#8CBE50" stroke-width="4"/><path d="M1496.7,826.0 L1531.7,861.0 M1531.7,826.0 L1496.7,861.0" stroke="#8CBE50" stroke-width="4" opacity="0.7"/><path d="M1542.4,826.0 V861.0" stroke="#8CBE50" stroke-width="4"/><path d="M1524.9,826.0 L1559.9,861.0 M1559.9,826.0 L1524.9,861.0" stroke="#8CBE50" stroke-width="4" opacity="0.7"/><path d="M1570.5,826.0 V861.0" stroke="#8CBE50" stroke-width="4"/><path d="M1553.0,826.0 L1588.0,861.0 M1588.0,826.0 L1553.0,861.0" stroke="#8CBE50" stroke-width="4" opacity="0.7"/><path d="M1598.7,826.0 V861.0" stroke="#8CBE50" stroke-width="4"/><path d="M1581.2,826.0 L1616.2,861.0 M1616.2,826.0 L1581.2,861.0" stroke="#8CBE50" stroke-width="4" opacity="0.7"/><path d="M1626.8,826.0 V861.0" stroke="#8CBE50" stroke-width="4"/><path d="M1609.3,826.0 L1644.3,861.0 M1644.3,826.0 L1609.3,861.0" stroke="#8CBE50" stroke-width="4" opacity="0.7"/><path d="M1655.0,826.0 V861.0" stroke="#8CBE50" stroke-width="4"/><path d="M1637.5,826.0 L1672.5,861.0 M1672.5,826.0 L1637.5,861.0" stroke="#8CBE50" stroke-width="4" opacity="0.7"/><path d="M247.0,931.5 L275.2,978.0 L303.3,1055.0 L331.5,1122.3 L359.6,1188.9 L387.8,1233.7 M444.1,1233.7 L472.3,1233.7 L500.4,1229.3 L556.8,1203.8 L613.1,1153.9 L641.2,1110.4 L669.4,1065.6 L697.6,1002.9 L725.7,935.0 L753.9,850.6" stroke="#C8303F" stroke-width="11" fill="none" stroke-linejoin="round"/><path d="M247.0,931.5 L275.2,978.0 L303.3,1055.0 L331.5,1122.3 L359.6,1188.9 L387.8,1233.7 M444.1,1233.7 L472.3,1233.7 L500.4,1229.3 L556.8,1203.8 L613.1,1153.9 L641.2,1110.4 L669.4,1065.6 L697.6,1002.9 L725.7,935.0 L753.9,850.6 L782.0,763.5 L810.2,668.2 L838.4,566.1 L866.5,478.9 L894.7,496.5 L922.8,501.5 L951.0,501.5 L979.2,501.5 L1007.3,501.5 L1035.5,501.5 L1063.6,501.5 L1091.8,501.5 L1120.0,501.5 L1148.1,501.5 L1176.3,501.5 L1204.4,501.5 L1232.6,501.5 L1260.8,501.5 L1288.9,501.5 L1317.1,501.5 L1345.2,501.5 L1373.4,501.5 L1401.6,501.5 L1429.7,501.5 L1457.9,501.5 L1486.0,501.5 L1514.2,501.5 L1542.4,501.5 L1570.5,501.5 L1598.7,501.5 L1626.8,501.5 L1655.0,501.5" stroke="#FF0000" stroke-width="8" fill="none" stroke-linejoin="round"/><path d="M387.8,1236 H444.1" stroke="#FF0000" stroke-width="4" fill="none"/><path d="M387.8,1231.5 H444.1" stroke="#FF0000" stroke-width="4" fill="none" opacity="0.3"/><circle cx="247.0" cy="931.5" r="12.5" fill="#FF0000"/><circle cx="275.2" cy="978.0" r="12.5" fill="#FF0000"/><circle cx="303.3" cy="1055.0" r="12.5" fill="#FF0000"/><circle cx="331.5" cy="1122.3" r="12.5" fill="#FF0000"/><circle cx="359.6" cy="1188.9" r="12.5" fill="#FF0000"/><circle cx="387.8" cy="1233.7" r="12.5" fill="#FF0000"/><circle cx="444.1" cy="1233.7" r="12.5" fill="#FF0000"/><circle cx="472.3" cy="1233.7" r="12.5" fill="#FF0000"/><circle cx="500.4" cy="1229.3" r="12.5" fill="#FF0000"/><circle cx="556.8" cy="1203.8" r="12.5" fill="#FF0000"/><circle cx="613.1" cy="1153.9" r="12.5" fill="#FF0000"/><circle cx="641.2" cy="1110.4" r="12.5" fill="#FF0000"/><circle cx="669.4" cy="1065.6" r="12.5" fill="#FF0000"/><circle cx="697.6" cy="1002.9" r="12.5" fill="#FF0000"/><circle cx="725.7" cy="935.0" r="12.5" fill="#FF0000"/><circle cx="753.9" cy="850.6" r="12.5" fill="#FF0000"/><circle cx="782.0" cy="763.5" r="12.5" fill="#FF0000"/><circle cx="810.2" cy="668.2" r="12.5" fill="#FF0000"/><circle cx="838.4" cy="566.1" r="12.5" fill="#FF0000"/><circle cx="866.5" cy="478.9" r="12.5" fill="#FF0000"/><circle cx="894.7" cy="496.5" r="12.5" fill="#FF0000"/><circle cx="922.8" cy="501.5" r="12.5" fill="#FF0000"/><circle cx="951.0" cy="501.5" r="12.5" fill="#FF0000"/><circle cx="979.2" cy="501.5" r="12.5" fill="#FF0000"/><circle cx="1007.3" cy="501.5" r="12.5" fill="#FF0000"/><circle cx="1035.5" cy="501.5" r="12.5" fill="#FF0000"/><circle cx="1063.6" cy="501.5" r="12.5" fill="#FF0000"/><circle cx="1091.8" cy="501.5" r="12.5" fill="#FF0000"/><circle cx="1120.0" cy="501.5" r="12.5" fill="#FF0000"/><circle cx="1148.1" cy="501.5" r="12.5" fill="#FF0000"/><circle cx="1176.3" cy="501.5" r="12.5" fill="#FF0000"/><circle cx="1204.4" cy="501.5" r="12.5" fill="#FF0000"/><circle cx="1232.6" cy="501.5" r="12.5" fill="#FF0000"/><circle cx="1260.8" cy="501.5" r="12.5" fill="#FF0000"/><circle cx="1288.9" cy="501.5" r="12.5" fill="#FF0000"/><circle cx="1317.1" cy="501.5" r="12.5" fill="#FF0000"/><circle cx="1345.2" cy="501.5" r="12.5" fill="#FF0000"/><circle cx="1373.4" cy="501.5" r="12.5" fill="#FF0000"/><circle cx="1401.6" cy="501.5" r="12.5" fill="#FF0000"/><circle cx="1429.7" cy="501.5" r="12.5" fill="#FF0000"/><circle cx="1457.9" cy="501.5" r="12.5" fill="#FF0000"/><circle cx="1486.0" cy="501.5" r="12.5" fill="#FF0000"/><circle cx="1514.2" cy="501.5" r="12.5" fill="#FF0000"/><circle cx="1542.4" cy="501.5" r="12.5" fill="#FF0000"/><circle cx="1570.5" cy="501.5" r="12.5" fill="#FF0000"/><circle cx="1598.7" cy="501.5" r="12.5" fill="#FF0000"/><circle cx="1626.8" cy="501.5" r="12.5" fill="#FF0000"/><circle cx="1655.0" cy="501.5" r="12.5" fill="#FF0000"/></g>
<g id="text" fill="#000"><text transform="translate(137.25,125.20) scale(1.0443,1)" font-size="50.46" font-family="'Liberation Sans', Arial, sans-serif" fill="#000">16</text><text transform="translate(135.39,406.60) scale(1.0832,1)" font-size="50.61" font-family="'Liberation Sans', Arial, sans-serif" fill="#000">12</text><text transform="translate(164.14,687.00) scale(1.1534,1)" font-size="50.18" font-family="'Liberation Sans', Arial, sans-serif" fill="#000">8</text><text transform="translate(165.39,968.40) scale(1.0402,1)" font-size="51.78" font-family="'Liberation Sans', Arial, sans-serif" fill="#000">4</text><text transform="translate(164.76,1248.50) scale(1.1271,1)" font-size="49.61" font-family="'Liberation Sans', Arial, sans-serif" fill="#000">0</text><text transform="translate(231.65,1324.35) scale(1.2566,1)" font-size="44.66" font-family="'Liberation Sans', Arial, sans-serif" fill="#000">0</text><text transform="translate(453.27,1324.35) scale(1.2218,1)" font-size="44.66" font-family="'Liberation Sans', Arial, sans-serif" fill="#000">60</text><text transform="translate(677.84,1324.35) scale(1.1821,1)" font-size="44.66" font-family="'Liberation Sans', Arial, sans-serif" fill="#000">120</text><text transform="translate(910.97,1324.35) scale(1.2037,1)" font-size="44.66" font-family="'Liberation Sans', Arial, sans-serif" fill="#000">180</text><text transform="translate(1146.36,1324.35) scale(1.1832,1)" font-size="44.66" font-family="'Liberation Sans', Arial, sans-serif" fill="#000">240</text><text transform="translate(1380.61,1324.35) scale(1.1880,1)" font-size="44.66" font-family="'Liberation Sans', Arial, sans-serif" fill="#000">300</text><text transform="translate(1614.59,1324.35) scale(1.2021,1)" font-size="44.66" font-family="'Liberation Sans', Arial, sans-serif" fill="#000">360</text><text transform="translate(692.21,1396.60) scale(1.0349,1)" font-size="53.84" font-family="'Liberation Sans', Arial, sans-serif" fill="#000">Crank angle (degree)</text><text transform="translate(102.50,851.19) rotate(-90) scale(1.0238,1)" font-size="55.55" font-family="'Liberation Sans', Arial, sans-serif" fill="#000">Displace (mm)</text></g>
<g id="legend"><path d="M722.9,68.1 H835.7" stroke="#2B84C6" stroke-width="7.8"/><path d="M779.3,52.1 L795.3,68.1 L779.3,84.1 L763.3,68.1Z" fill="#2B84C6"/><text transform="translate(845.32,88.60) scale(1.1435,1)" font-size="46.45" font-family="'Liberation Sans', Arial, sans-serif" fill="#000">1mm-left piston</text><path d="M718.3,170.7 H840" stroke="#DD524F" stroke-width="12"/><rect x="768.6" y="160.2" width="21" height="21" fill="#DD524F"/><text transform="translate(845.37,189.30) scale(1.0983,1)" font-size="47.77" font-family="'Liberation Sans', Arial, sans-serif" fill="#000">1mm-right piston</text><path d="M723,269.3 H835.5" stroke="#000000" stroke-width="8.8"/><path d="M766.2,269.3 H792.2 M779.2,256.3 V282.3" stroke="#000" stroke-width="4.5" fill="none"/><text transform="translate(844.34,289.50) scale(1.1434,1)" font-size="46.45" font-family="'Liberation Sans', Arial, sans-serif" fill="#000">2mm-left piston</text><path d="M1276.3,72.2 H1388.7" stroke="#00186A" stroke-width="7.6"/><path d="M1332.5,64.0 L1342.5,85.0 L1322.5,85.0Z" fill="#000"/><path d="M1332.5,73.0 L1336.5,81.0 L1328.5,81.0Z" fill="#00186A"/><text transform="translate(1396.66,92.80) scale(1.0996,1)" font-size="47.96" font-family="'Liberation Sans', Arial, sans-serif" fill="#000">2mm-right piston</text><path d="M1276.3,173 H1388.7" stroke="#8CBE50" stroke-width="7.6"/><path d="M1332.5,158.3 V187.7" stroke="#8CBE50" stroke-width="4"/><path d="M1317.8,158.3 L1347.2,187.7 M1347.2,158.3 L1317.8,187.7" stroke="#8CBE50" stroke-width="4" opacity="0.7"/><text transform="translate(1398.11,193.20) scale(1.1284,1)" font-size="47.01" font-family="'Liberation Sans', Arial, sans-serif" fill="#000">4mm-left piston</text><path d="M1276.3,277.6 H1388.7" stroke="#FF0000" stroke-width="7.6"/><circle cx="1332.5" cy="275.6" r="13.5" fill="#FF0000"/><text transform="translate(1398.12,294.10) scale(1.1221,1)" font-size="46.82" font-family="'Liberation Sans', Arial, sans-serif" fill="#000">4mm-right piston</text></g>
</svg>
</body></html>
